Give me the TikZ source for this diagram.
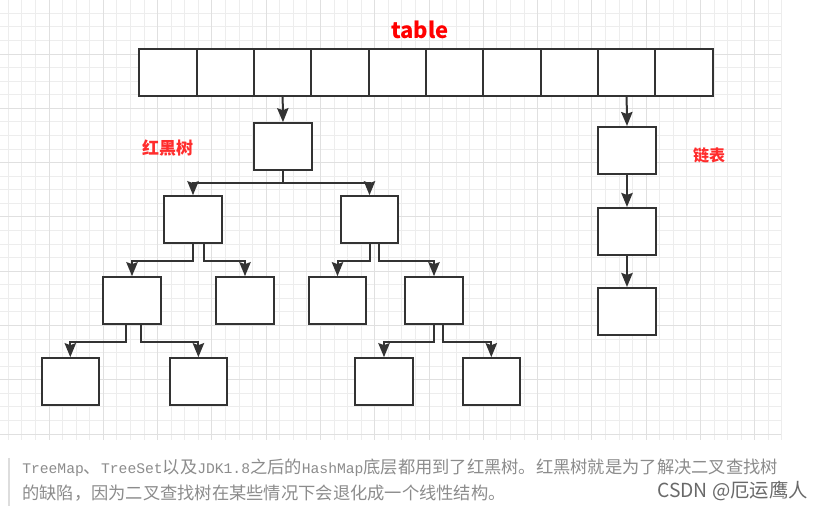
\documentclass[tikz,border=0pt]{standalone}
\usepackage{fontspec}
\setmainfont{Noto Sans CJK SC}
\newfontfamily\latmono{Liberation Mono}
\usetikzlibrary{arrows.meta}
\definecolor{gridminor}{RGB}{237,237,237}
\definecolor{gridmajor}{RGB}{224,224,224}
\definecolor{boxline}{RGB}{51,51,51}
\definecolor{notegray}{RGB}{140,140,140}
\definecolor{notebar}{RGB}{221,221,221}
\definecolor{markgray}{RGB}{105,105,105}
\definecolor{labelred}{RGB}{255,45,45}
\newcommand{\monotxt}[1]{{\latmono\fontsize{11pt}{12pt}\selectfont #1}}
\tikzset{arrow/.style={line width=1.5pt,draw=boxline,-{Stealth[length=10.5pt,width=8.5pt,inset=1.5pt]}}}
\tikzstyle{cell} = [draw=boxline,line width=1.5pt,fill=white,minimum width=43pt,minimum height=35pt,inner sep=0pt]
\tikzstyle{redlabel} = [text=labelred,font=\bfseries\fontsize{12.75pt}{14pt}\selectfont,inner sep=0pt]

\begin{document}
\begin{tikzpicture}[x=0.75pt,y=0.75pt,yscale=-1,xscale=1]
\useasboundingbox (0,0) rectangle (822,509);
\fill[white] (0,0) rectangle (822,509);

%Grid: minor and major lines
\foreach \k in {0,...,57}
  \draw[gridminor,line width=0.6pt] ({8.3+13.57*\k},0) -- ({8.3+13.57*\k},440);
\foreach \k in {0,...,31}
  \draw[gridminor,line width=0.6pt] (0,{13.3+13.57*\k}) -- (781,{13.3+13.57*\k});
\foreach \k in {3,7,...,55}
  \draw[gridmajor,line width=0.6pt] ({8.3+13.57*\k},0) -- ({8.3+13.57*\k},440);
\foreach \k in {3,7,...,31}
  \draw[gridmajor,line width=0.6pt] (0,{13.3+13.57*\k}) -- (781,{13.3+13.57*\k});

%Shape: table cells
\foreach \i in {1,...,10}
  \node[cell] (t\i) at ({168+57.33*(\i-1)},72.7) {};

%Shape: red-black tree
\node[cell] (r) at (283,146.5) {};
\node[cell] (r1) at (193,219.5) {};
\node[cell] (r2) at (369.5,219.5) {};
\node[cell] (r11) at (132,300.5) {};
\node[cell] (r12) at (245,300.5) {};
\node[cell] (r21) at (337.5,300.5) {};
\node[cell] (r22) at (434,300.5) {};
\node[cell] (r111) at (70.3,381.5) {};
\node[cell] (r112) at (198.4,381.5) {};
\node[cell] (r221) at (384,381.5) {};
\node[cell] (r222) at (491.3,381.5) {};

%Shape: linked list
\node[cell] (l1) at (627,150.3) {};
\node[cell] (l2) at (627,231.3) {};
\node[cell] (l3) at (627,311.3) {};

%Connectors
\draw[arrow] (t3.south) -- (r.north);
\draw[arrow] (r.south) -- ++(0,12) -| (r1.north);
\draw[arrow] (r.south) -- ++(0,12) -| (r2.north);
\draw[arrow] (r1.south) -- ++(0,17) -| (r11.north);
\draw[arrow] ([xshift=8.3pt]r1.south) -- ++(0,17) -| (r12.north);
\draw[arrow] (r2.south) -- ++(0,17) -| (r21.north);
\draw[arrow] ([xshift=6.8pt]r2.south) -- ++(0,17) -| (r22.north);
\draw[arrow] ([xshift=-4.5pt]r11.south) -- ++(0,17) -| (r111.north);
\draw[arrow] ([xshift=6.8pt]r11.south) -- ++(0,17) -| (r112.north);
\draw[arrow] (r22.south) -- ++(0,17) -| (r221.north);
\draw[arrow] ([xshift=6.8pt]r22.south) -- ++(0,17) -| (r222.north);
\draw[arrow] (t9.south) -- (l1.north);
\draw[arrow] (l1.south) -- (l2.north);
\draw[arrow] (l2.south) -- (l3.north);

% Text Node
\node[text=red,font=\bfseries\fontsize{16.5pt}{18pt}\selectfont,inner sep=0pt] (title) at (420,30) {table};
% Text Node
\node[redlabel] (rbtree) at (167.5,148) {红黑树};
% Text Node
\node[redlabel,font=\bfseries\fontsize{12pt}{14pt}\selectfont] (linked) at (709,155) {链表};

%Note below the grid
\draw[notebar,line width=2.2pt] (9,458) -- (9,506);
% Text Node
\node[anchor=west,text=notegray,font=\fontsize{12.95pt}{15pt}\selectfont,inner sep=0pt] (note1) at (22,468) {\monotxt{TreeMap}、\monotxt{TreeSet}以及\monotxt{JDK1.8}之后的\monotxt{HashMap}底层都用到了红黑树。红黑树就是为了解决二叉查找树};
% Text Node
\node[anchor=west,text=notegray,font=\fontsize{12.95pt}{15pt}\selectfont,inner sep=0pt] (note2) at (22,493) {的缺陷，因为二叉查找树在某些情况下会退化成一个线性结构。};
% Text Node
\node[anchor=east,text=markgray,font=\fontsize{14.5pt}{16pt}\selectfont,inner sep=0pt] (mark) at (808,491) {CSDN @厄运鹰人};

\end{tikzpicture}
\end{document}
